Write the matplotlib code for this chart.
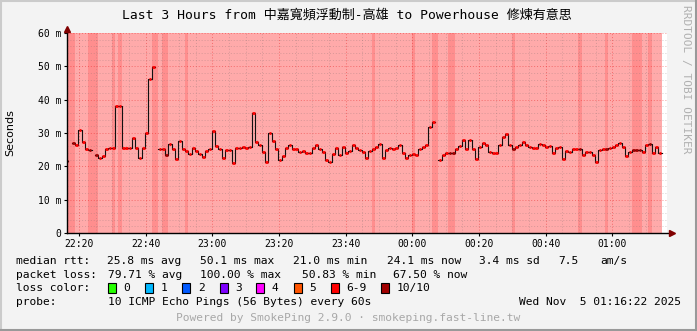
import numpy as np
import matplotlib.pyplot as plt
from matplotlib.lines import Line2D
from matplotlib.patches import Rectangle

W, H = 697, 331
MONO = ["DejaVu Sans Mono", "Noto Sans CJK TC"]

title = "Last 3 Hours from 中嘉寬頻浮動制-高雄 to Powerhouse 修煉有意思"

# median rtt (ms), one value per minute; minute k covers [k-0.6, k+0.4] min after 22:16:22
nan = np.nan
rtt = [21.6, nan, 26.9, 26.3, 30.8, 27.4, 25.1, 24.9, nan, 23.4,
       22.4, 23.1, 25.2, 25.5, 25.5, 38.1, 38.1, 25.4, 25.4, 25.4,
       28.6, 25.4, 22.6, 25.4, 29.9, 46.1, 49.9, nan, 25.2, 25.2,
       23.4, 26.7, 25.2, 22.1, 27.6, 25.2, 24.7, 23.7, 25.6, 24.7,
       23.7, 22.9, 24.7, 25.2, 30.6, 26.2, 25.2, 22.4, 24.9, 24.9,
       20.9, 25.6, 25.6, 25.8, 25.6, 25.9, 36.1, 27.4, 26.5, 24.3,
       21.4, 29.9, 27.7, 25.2, 21.9, 23.1, 25.4, 26.4, 25.1, 25.1,
       24.2, 24.7, 24.1, 24.1, 25.4, 26.4, 25.1, 24.4, 21.9, 21.4,
       23.7, 25.6, 23.4, 25.9, 24.1, 24.7, 26.4, 25.6, 24.9, 24.3,
       22.4, 24.6, 25.1, 25.7, 26.7, 22.6, 24.9, 25.4, 25.1, 25.4,
       26.4, 24.0, 22.6, 23.4, 23.6, 23.4, 25.1, 25.9, 26.4, 31.9,
       33.4, nan, 21.9, 23.4, 24.1, 24.1, 24.1, 25.1, 26.2, 27.9,
       25.2, 27.9, 25.1, 22.1, 25.7, 27.1, 26.5, 24.4, 24.1, 24.1,
       26.4, 28.9, 29.7, 26.5, 25.1, 25.7, 26.5, 27.2, 26.5, 25.9,
       25.6, 25.6, 26.7, 26.4, 25.9, 26.2, 24.1, 25.4, 25.7, 22.3,
       24.7, 24.4, 25.2, 25.2, 25.1, 23.4, 24.4, 24.4, 23.4, 21.4,
       24.9, 25.2, 25.1, 25.6, 25.7, 26.4, 27.1, 25.7, 23.1, 24.4,
       24.9, 24.9, 24.9, 24.4, 26.5, 26.8, 24.1, 25.7, 24.0]

# minutes with 10/10 loss colour on the median, and with the darker loss band
dark_dots = [0, 2, 7, 9, 30, 115, 116, 134, 154, 162, 170, 171, 172, 175]
dark_bg = [0, 1, 2, 7, 8, 9, 14, 16, 26, 27, 29, 30, 36, 92, 104, 110, 111,
           115, 116, 134, 154, 162, 170, 171, 172, 175]

tick_labels = ["22:20", "22:40", "23:00", "23:20", "23:40",
               "00:00", "00:20", "00:40", "01:00"]
first_tick = 3 + 38 / 60.0  # 22:20:00 is 3m38s after 22:16:22

y_ticks = [0, 10, 20, 30, 40, 50, 60]

loss_names = ["0", "1", "2", "3", "4", "5", "6-9", "10/10"]
loss_colors = ["#26ff00", "#00b8ff", "#0059ff", "#7e00ff",
               "#ff00ff", "#ff5500", "#ff0000", "#a10000"]

rtt_row = [("median rtt:", 15.6), ("25.8 ms avg", 106.7), ("50.1 ms max", 200),
           ("21.0 ms min", 293.3), ("24.1 ms now", 386.7), ("3.4 ms sd", 479),
           ("7.5", 557.8), ("am/s", 600)]
loss_row = [("packet loss:", 15.6), ("79.71 % avg", 107.6), ("100.00 % max", 200),
            ("50.83 % min", 302), ("67.50 % now", 393.3)]
probe_text = "10 ICMP Echo Pings (56 Bytes) every 60s"
date_text = "Wed Nov  5 01:16:22 2025"
footer = "Powered by SmokePing 2.9.0 \u00b7 smokeping.fast-line.tw"


def px(x, y):
    return x / W, 1 - y / H


fig = plt.figure(figsize=(W / 100, H / 100), dpi=100, facecolor="#f3f3f3")
ax = fig.add_axes([67 / W, (H - 233) / H, 600 / W, 200 / H])
ax.set_facecolor("white")

n = len(rtt)
k = np.arange(n)
vals = np.array(rtt, dtype=float)

# loss background
ax.axvspan(-0.6, n - 0.6, color="#ffaaaa", lw=0, zorder=0)
runs = []
for m in dark_bg:
    if runs and runs[-1][1] == m - 1:
        runs[-1][1] = m
    else:
        runs.append([m, m])
for a, b in runs:
    ax.axvspan(a - 0.6, b + 0.4, color="#ff8e8e", lw=0, zorder=0.5)

# grid
for i in range(36):
    x = first_tick - 5 + 5 * i
    if x < 0 or x > 180:
        continue
    major = (i - 1) % 4 == 0
    ax.axvline(x, color=(0.9, 0.1, 0.1, 0.45) if major else (0.55, 0.45, 0.45, 0.35),
               lw=0.7, ls=(0, (1, 2)), zorder=1)
for v in range(2, 61, 2):
    major = v % 10 == 0
    ax.axhline(v, color=(0.9, 0.1, 0.1, 0.45) if major else (0.55, 0.45, 0.45, 0.35),
               lw=0.7, ls=(0, (1, 2)), zorder=1)

# median line
xs = np.append(k - 0.6, n - 0.6)
ys = np.append(vals, vals[-1])
ax.plot(xs, ys, drawstyle="steps-post", color="#111111", lw=0.8, zorder=3)
for i in range(n):
    if np.isnan(vals[i]):
        continue
    c = "#a10000" if i in dark_dots else "#ff0000"
    ax.hlines(vals[i], max(i - 0.5, 0), i + 0.3, colors=c, lw=2.0, zorder=4)

ax.set_xlim(0, 180)
ax.set_ylim(0, 60)
for s in ax.spines.values():
    s.set_visible(False)
ax.add_line(Line2D([0, 0], [0, 1.015], transform=ax.transAxes, color="black",
                   lw=1, clip_on=False, zorder=5))
ax.add_line(Line2D([0, 1.005], [0, 0], transform=ax.transAxes, color="black",
                   lw=1, clip_on=False, zorder=5))
ax.plot([0], [1.02], marker="^", ms=4, color="#800000", transform=ax.transAxes,
        clip_on=False, zorder=6)
ax.plot([1.008], [0], marker=">", ms=4, color="#800000", transform=ax.transAxes,
        clip_on=False, zorder=6)

ax.set_xticks([first_tick + 20 * i for i in range(len(tick_labels))])
ax.set_xticklabels(tick_labels, family=MONO, fontsize=7)
ax.set_yticks(y_ticks)
ax.set_yticklabels([("%d m" % v) if v else "0" for v in y_ticks], family=MONO, fontsize=7)
ax.tick_params(length=2, width=0.8, pad=2)

fig.text(*px(347, 15), title, family=MONO, fontsize=9.4, ha="center", va="center")
fig.text(*px(10, 133), "Seconds", fontsize=8, rotation=90, ha="center", va="center")
fig.text(*px(686, 5), "RRDTOOL / TOBI OETIKER", family=MONO, fontsize=8,
         rotation=270, ha="center", va="top", color="#b0b0b0")

for text, x in rtt_row:
    fig.text(*px(x, 261), text, family=MONO, fontsize=8.1, va="center")
for text, x in loss_row:
    fig.text(*px(x, 275), text, family=MONO, fontsize=8.1, va="center")
fig.text(*px(15.6, 288), "loss color:", family=MONO, fontsize=8.1, va="center")
box_x = [108, 145.3, 182.2, 219.6, 256.4, 293.8, 330.7, 381.3]
for name, col, bx in zip(loss_names, loss_colors, box_x):
    fig.add_artist(Rectangle(px(bx, 293), 8 / W, 10 / H, facecolor=col,
                             edgecolor="black", lw=0.8, transform=fig.transFigure))
    fig.text(*px(bx + 15.5, 288), name, family=MONO, fontsize=8.1, va="center")
fig.text(*px(15.6, 302), "probe:", family=MONO, fontsize=8.1, va="center")
fig.text(*px(108, 302), probe_text, family=MONO, fontsize=8.1, va="center")
fig.text(*px(681, 302), date_text, family=MONO, fontsize=8.1, va="center", ha="right")
fig.text(*px(348, 318), footer, family=MONO, fontsize=8.1, va="center", ha="center",
         color="#a8a8a8")

# 3d border
fig.add_artist(Line2D([0, 1], [1 - 1 / H] * 2, transform=fig.transFigure, color="#cbcbcb", lw=1.5))
fig.add_artist(Line2D([1 / W] * 2, [0, 1], transform=fig.transFigure, color="#cbcbcb", lw=1.5))
fig.add_artist(Line2D([0, 1], [1 / H] * 2, transform=fig.transFigure, color="#999999", lw=1.5))
fig.add_artist(Line2D([1 - 1 / W] * 2, [0, 1], transform=fig.transFigure, color="#999999", lw=1.5))

fig.savefig("out.png", dpi=100, facecolor=fig.get_facecolor())
